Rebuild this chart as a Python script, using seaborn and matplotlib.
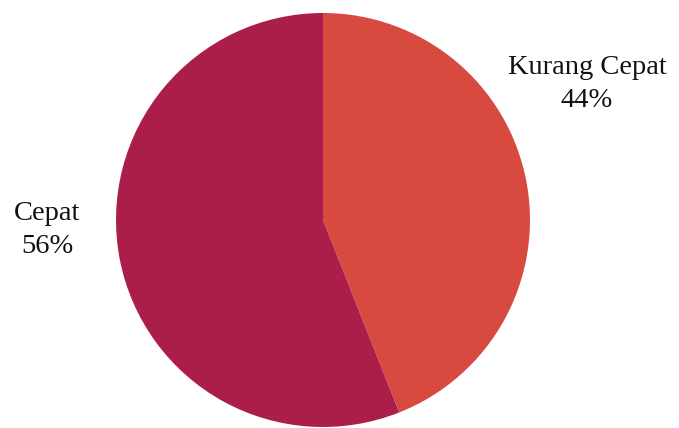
import matplotlib
matplotlib.use("Agg")
import matplotlib.pyplot as plt
import seaborn as sns

categories = ["Kurang Cepat", "Cepat"]
shares = [44, 56]
slice_colors = ["#d84a40", "#ab1e4a"]

sns.set_theme(style="white")
plt.rcParams["font.family"] = ["Liberation Serif", "DejaVu Serif"]

fig = plt.figure(figsize=(6.79, 4.28), dpi=100)
W, H = 679, 428
cx, cy, r = 323, 220, 207
ax = fig.add_axes([(cx - r) / W, (H - cy - r) / H, 2 * r / W, 2 * r / H])

ax.pie(shares, colors=slice_colors, startangle=90, counterclock=False,
       radius=1.0, wedgeprops=dict(linewidth=0))
ax.set_xlim(-1, 1)
ax.set_ylim(-1, 1)
ax.set_aspect("equal")
ax.axis("off")

def px(x, y):
    return (x - cx) / r, (cy - y) / r

label_pos = [(587, 84), (47, 230)]
for name, val, (lx, ly) in zip(categories, shares, label_pos):
    dx, dy = px(lx, ly)
    ax.text(dx, dy, f"{name}\n{val}%", ha="center", va="center",
            fontsize=20.5, color="#111111", linespacing=1.42, clip_on=False)

fig.savefig("out.png", dpi=100)
